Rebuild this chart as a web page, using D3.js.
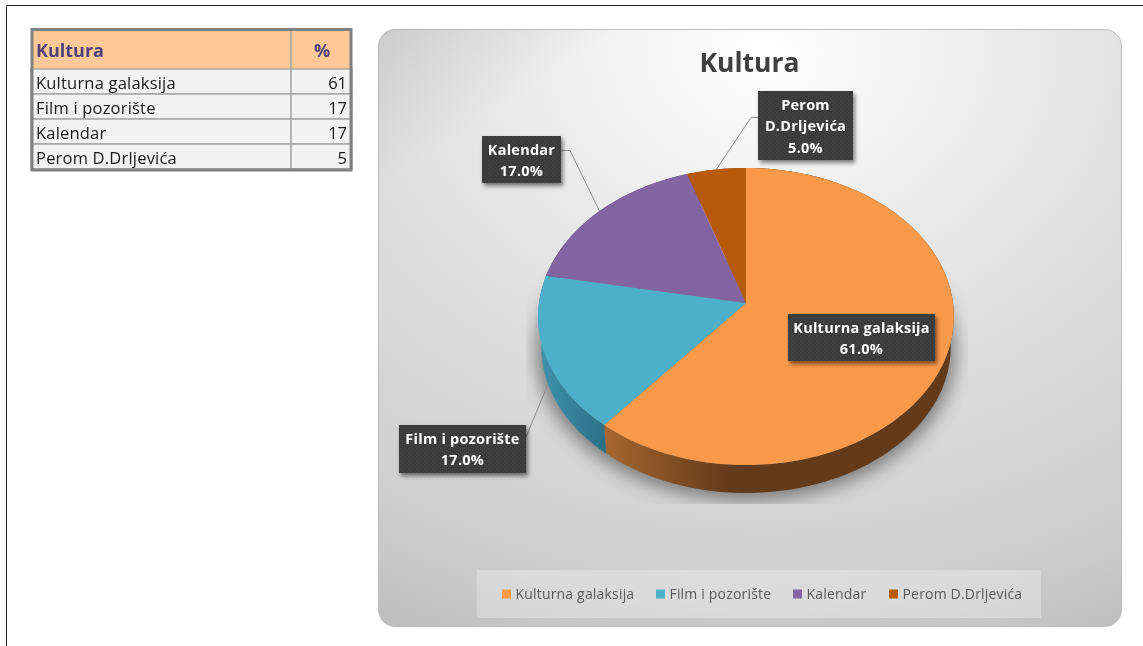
<!DOCTYPE html>
<html>
<head>
<meta charset="utf-8">
<script src="https://cdn.jsdelivr.net/npm/d3@7"></script>
<style>
	html, body { margin: 0; background: #fff; }
	svg { display: block; filter: blur(0.35px); font-family: "Open Sans", "Noto Sans", sans-serif; }
</style>
</head>
<body>
<svg width="1143" height="646"></svg>
<script>
const title = "Kultura"
const valueHeader = "%"
const categories = ["Kulturna galaksija", "Film i pozorište", "Kalendar", "Perom D.Drljevića"]
const values = [61, 17, 17, 5]
const colors = ["#FA994A", "#4DB0CB", "#8364A3", "#B65A0A"]
const labelLines = [["Kulturna galaksija"], ["Film i pozorište"], ["Kalendar"], ["Perom", "D.Drljevića"]]

// layout, not data
const plot = { x: 378.5, y: 29.5, w: 743, h: 597, r: 17 }
const pieGeo = { cx: 746, cy: 303, rx: 207, ry: 147.3, tilt: 0.0909, depth: 30.4, shrink: 0.985 }
const boxes = [
	{ x: 788, y: 314, w: 147, h: 47 },
	{ x: 399, y: 425, w: 127, h: 48 },
	{ x: 482, y: 136, w: 79, h: 47 },
	{ x: 758, y: 91, w: 95, h: 69 }
]
const legendBox = { x: 477, y: 570, w: 564, h: 48 }
const legendX = [502, 656, 793, 889]

const svg = d3.select("svg")
const defs = svg.append("defs")
const color = d3.scaleOrdinal().domain(categories).range(colors)

// page frame
svg.append("path").attr("d", "M6.5,646V5.5H1143").attr("fill", "none").attr("stroke", "#222").attr("stroke-width", 1)

drawTable()
drawChart()

function drawTable(){
	const t = svg.append("g")
	const right = 352
	const y = d3.scaleBand().domain(categories).range([69, 169])

	t.append("rect").attr("x", 31).attr("y", 29).attr("width", right - 31).attr("height", 40).attr("fill", "#FFC997")
	t.selectAll(".row").data(categories).enter().append("rect")
		.attr("x", 31).attr("y", d => y(d)).attr("width", right - 31).attr("height", y.bandwidth())
		.attr("fill", "#F2F2F2").attr("stroke", "#a6a6a6").attr("stroke-width", 1.5)
	t.append("line").attr("x1", 291).attr("x2", 291).attr("y1", 29).attr("y2", 169).attr("stroke", "#a0a0a0").attr("stroke-width", 1.5)
	t.append("rect").attr("x", 32).attr("y", 29.5).attr("width", 319).attr("height", 140.5)
		.attr("fill", "none").attr("stroke", "#808080").attr("stroke-width", 3)

	t.append("text").attr("x", 36).attr("y", 57).text(title)
		.attr("font-size", 18).attr("font-weight", 700).attr("fill", "#51417A")
	t.append("text").attr("x", 322).attr("y", 57).attr("text-anchor", "middle").text(valueHeader)
		.attr("font-size", 18).attr("font-weight", 700).attr("fill", "#51417A")

	t.selectAll(".name").data(categories).enter().append("text")
		.attr("x", 36).attr("y", d => y(d) + 19.5).text(d => d)
		.attr("font-size", 16.5).attr("letter-spacing", 0.2).attr("fill", "#1a1a1a")
	t.selectAll(".val").data(values).enter().append("text")
		.attr("x", 347).attr("y", (d, i) => y(categories[i]) + 19.5).attr("text-anchor", "end").text(d => d)
		.attr("font-size", 16.5).attr("fill", "#1a1a1a")
}

// angle on the pie -> point on the tilted disc
function rim(a, lower){
	const u = Math.sin(a), v = -Math.cos(a)
	const w = 1 - pieGeo.tilt * v
	const s = lower ? pieGeo.shrink : 1
	const dy = lower ? pieGeo.depth : 0
	return [pieGeo.cx + pieGeo.rx * s * u / w, pieGeo.cy + dy + pieGeo.ry * s * v / w]
}

function arcPoints(a0, a1, lower){
	const n = Math.max(2, Math.ceil((a1 - a0) / 0.02))
	return d3.range(n + 1).map(i => rim(a0 + (a1 - a0) * i / n, lower))
}

function drawChart(){
	const bg = defs.append("radialGradient").attr("id", "bg")
		.attr("cx", 0.52).attr("cy", 0.04).attr("r", 1.15)
	bg.append("stop").attr("offset", 0).attr("stop-color", "#ffffff")
	bg.append("stop").attr("offset", 0.26).attr("stop-color", "#ededed")
	bg.append("stop").attr("offset", 0.48).attr("stop-color", "#dedede")
	bg.append("stop").attr("offset", 0.8).attr("stop-color", "#cdcdcd")
	bg.append("stop").attr("offset", 1).attr("stop-color", "#b8b8b8")

	const corner = defs.append("linearGradient").attr("id", "corner")
		.attr("x1", 0).attr("y1", 0).attr("x2", 0.13).attr("y2", 0.16)
	corner.append("stop").attr("offset", 0).attr("stop-color", "#000").attr("stop-opacity", 0.09)
	corner.append("stop").attr("offset", 1).attr("stop-color", "#000").attr("stop-opacity", 0)

	svg.append("rect").attr("x", plot.x).attr("y", plot.y).attr("width", plot.w).attr("height", plot.h)
		.attr("rx", plot.r).attr("fill", "url(#bg)").attr("stroke", "#bcbcbc")
	svg.append("rect").attr("x", plot.x).attr("y", plot.y).attr("width", plot.w).attr("height", plot.h)
		.attr("rx", plot.r).attr("fill", "url(#corner)")

	svg.append("text").attr("x", 749.5).attr("y", 72).attr("text-anchor", "middle").text(title)
		.attr("font-size", 26.5).attr("font-weight", 700).attr("fill", "#404040")

	const slices = d3.pie().sort(null)(values)
	const line = d3.line()

	// shadow under the disc, cut off by a box like the original
	const blur = defs.append("filter").attr("id", "soft").attr("x", "-20%").attr("y", "-20%").attr("width", "140%").attr("height", "140%")
	blur.append("feGaussianBlur").attr("stdDeviation", 9)
	defs.append("clipPath").attr("id", "shadowClip").append("rect")
		.attr("x", 526).attr("y", 260).attr("width", 442).attr("height", 244)
	svg.append("g").attr("clip-path", "url(#shadowClip)")
		.append("path")
		.attr("d", line(arcPoints(0, 2 * Math.PI, true).map(p => [p[0], p[1] + 3])) + "Z")
		.attr("transform", "translate(746,320) scale(1.025) translate(-746,-320)")
		.attr("fill", "#444").attr("opacity", 0.62).attr("filter", "url(#soft)")

	// leader lines go under the pie
	const leaders = svg.append("g").attr("fill", "none").attr("stroke", "#8c8c8c").attr("stroke-width", 1)
	slices.forEach((s, i) => {
		if(i == 0) return
		const mid = (s.startAngle + s.endAngle) / 2
		const front = -Math.cos(mid) > 0
		const end = rim(mid, front)
		const b = boxes[i]
		const leftSide = b.x > end[0]
		const edge = leftSide ? b.x : b.x + b.w
		const elbow = front ? null : [edge + (leftSide ? -7 : 9), b.y + (i == 3 ? 26.5 : 14.5)]
		const start = [edge, front ? b.y + 12 : b.y + (i == 3 ? 26.5 : 14.5)]
		leaders.append("path").attr("d", line(elbow ? [start, elbow, end] : [start, end]))
	})

	// side walls
	const gradOrange = defs.append("linearGradient").attr("id", "wall0").attr("gradientUnits", "userSpaceOnUse")
		.attr("x1", 606).attr("x2", 730).attr("y1", 0).attr("y2", 0)
	gradOrange.append("stop").attr("offset", 0).attr("stop-color", "#A6662F")
	gradOrange.append("stop").attr("offset", 1).attr("stop-color", "#633A1A")
	const gradBlue = defs.append("linearGradient").attr("id", "wall1").attr("gradientUnits", "userSpaceOnUse")
		.attr("x1", 540).attr("x2", 606).attr("y1", 0).attr("y2", 0)
	gradBlue.append("stop").attr("offset", 0).attr("stop-color", "#3D93AE")
	gradBlue.append("stop").attr("offset", 1).attr("stop-color", "#2C6F85")

	svg.append("g").selectAll("path").data(slices).enter().append("path")
		.attr("d", s => line(arcPoints(s.startAngle, s.endAngle, false).concat(arcPoints(s.startAngle, s.endAngle, true).reverse())) + "Z")
		.attr("fill", (s, i) => i < 2 ? `url(#wall${i})` : d3.color(colors[i]).darker(1))

	// top face
	svg.append("g").selectAll("path").data(slices).enter().append("path")
		.attr("d", s => line([[pieGeo.cx, pieGeo.cy]].concat(arcPoints(s.startAngle, s.endAngle, false))) + "Z")
		.attr("fill", (s, i) => color(categories[i]))

	drawLabels(slices)
	drawLegend()
}

function drawLabels(slices){
	const dots = defs.append("pattern").attr("id", "dots").attr("patternUnits", "userSpaceOnUse").attr("width", 4).attr("height", 4)
	dots.append("rect").attr("width", 4).attr("height", 4).attr("fill", "#3a3a3a")
	dots.append("rect").attr("width", 1).attr("height", 1).attr("fill", "#484848")
	dots.append("rect").attr("x", 2).attr("y", 2).attr("width", 1).attr("height", 1).attr("fill", "#484848")

	const drop = defs.append("filter").attr("id", "drop").attr("x", "-15%").attr("y", "-20%").attr("width", "130%").attr("height", "150%")
	drop.append("feDropShadow").attr("dx", 2).attr("dy", 3).attr("stdDeviation", 2.2).attr("flood-color", "#000").attr("flood-opacity", 0.5)

	const g = svg.append("g").selectAll("g").data(slices).enter().append("g")
	g.append("rect")
		.attr("x", (d, i) => boxes[i].x).attr("y", (d, i) => boxes[i].y)
		.attr("width", (d, i) => boxes[i].w).attr("height", (d, i) => boxes[i].h)
		.attr("fill", "url(#dots)").attr("filter", "url(#drop)")

	g.each(function(d, i){
		const lines = labelLines[i].concat(d3.format(".1%")(d.value / d3.sum(values)))
		const b = boxes[i]
		const mid = b.x + b.w / 2
		d3.select(this).selectAll("text").data(lines).enter().append("text")
			.attr("x", mid).attr("y", (t, j) => b.y + 18.5 + j * 21.5)
			.attr("text-anchor", "middle").text(t => t)
			.attr("font-size", 14.5).attr("font-weight", 700).attr("letter-spacing", 0.25).attr("fill", "#fff")
	})
}

function drawLegend(){
	const l = svg.append("g")
	l.append("rect").attr("x", legendBox.x).attr("y", legendBox.y).attr("width", legendBox.w).attr("height", legendBox.h)
		.attr("fill", "#fff").attr("fill-opacity", 0.28)
	const items = l.selectAll("g").data(categories).enter().append("g")
		.attr("transform", (d, i) => `translate(${legendX[i]},594)`)
	items.append("rect").attr("x", 0).attr("y", -4.5).attr("width", 9).attr("height", 9).attr("fill", d => color(d))
	items.append("text").attr("x", 13.5).attr("y", 4.5).text(d => d)
		.attr("font-size", 14).attr("letter-spacing", 0.18).attr("fill", "#595959")
}
</script>
</body>
</html>
